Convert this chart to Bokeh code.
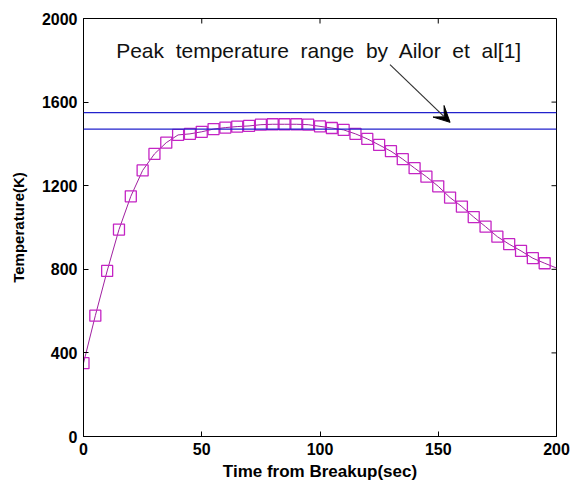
import math

from bokeh.plotting import figure
from bokeh.models import (Range1d, FixedTicker, Span, Label,
                          Arrow, VeeHead, ColumnDataSource)
from bokeh.embed import file_html
from bokeh.resources import INLINE

# Debris temperature history after breakup
time_s = [0, 5, 10, 15, 20, 25, 30, 35, 40, 45, 50, 55, 60, 65, 70, 75, 80,
          85, 90, 95, 100, 105, 110, 115, 120, 125, 130, 135, 140, 145, 150,
          155, 160, 165, 170, 175, 180, 185, 190, 195, 200]
temperature_k = [351, 578, 792, 990, 1149, 1273, 1352, 1406, 1443, 1448, 1458,
                 1471, 1478, 1483, 1486, 1492, 1494, 1494, 1494, 1492, 1484,
                 1476, 1467, 1448, 1424, 1395, 1365, 1327, 1284, 1243, 1197,
                 1143, 1100, 1050, 1004, 956, 920, 888, 853, 829, 806]

# Reported peak temperature band (Ailor et al.)
peak_range_k = [1471, 1550]

x_ticks = [0, 50, 100, 150, 200]
y_ticks = [0, 400, 800, 1200, 1600, 2000]
x_max = 200
y_max = 2000

# Words are set with a wide gap between them
annotation_words = ["Peak", "temperature", "range", "by", "Ailor", "et", "al[1]"]
annotation_text = "\u00a0 ".join(annotation_words)
annotation_pos = (13.8, 1847)
arrow_from = (129.6, 1779)
arrow_to = (155.0, 1503)

FONT = "Liberation Sans"
CURVE = "#c424c4"
BAND = "#2222cc"

p = figure(width=577, height=483, output_backend="svg", toolbar_location=None,
           x_range=Range1d(0, x_max), y_range=Range1d(0, y_max),
           min_border_left=83, min_border_right=21, min_border_top=18,
           min_border_bottom=44, background_fill_color="white",
           border_fill_color="white")
p.outline_line_color = "black"
p.outline_line_width = 1
p.grid.visible = False

for ax, ticks in ((p.xaxis[0], x_ticks), (p.yaxis[0], y_ticks)):
    ax.ticker = FixedTicker(ticks=ticks)
    ax.major_tick_in = 5
    ax.major_tick_out = 0
    ax.minor_tick_in = 0
    ax.minor_tick_out = 0
    ax.axis_line_color = "black"
    ax.major_tick_line_color = "black"
    ax.major_label_text_font = FONT
    ax.major_label_text_font_style = "bold"
    ax.major_label_text_font_size = "16px"
    ax.major_label_text_color = "black"
    ax.axis_label_text_font = FONT
    ax.axis_label_text_font_style = "bold"
    ax.axis_label_text_color = "black"

p.xaxis.axis_label = "Time from Breakup(sec)"
p.xaxis.axis_label_text_font_size = "17px"
p.xaxis.major_label_standoff = 6
p.xaxis.axis_label_standoff = 4
p.yaxis.axis_label = "Temperature(K)"
p.yaxis.axis_label_text_font_size = "15px"
p.yaxis.major_label_standoff = 6
p.yaxis.axis_label_standoff = 12

# Mirror tick marks along the top and right edges of the box
p.ray(x=x_ticks, y=[y_max] * len(x_ticks), length=5, length_units="screen",
      angle=-math.pi / 2, line_color="black", line_width=1)
p.ray(x=[x_max] * len(y_ticks), y=y_ticks, length=5, length_units="screen",
      angle=math.pi, line_color="black", line_width=1)

for level in peak_range_k:
    p.add_layout(Span(location=level, dimension="width", line_color=BAND,
                      line_width=1.2))

src = ColumnDataSource(data=dict(t=time_s, T=temperature_k))
mark_src = ColumnDataSource(data=dict(t=time_s[:-1], T=temperature_k[:-1]))
p.line("t", "T", source=src, line_color="#a020a0", line_width=1)
p.scatter("t", "T", source=mark_src, marker="square", size=11,
          fill_color=None, line_color=CURVE, line_width=1.3)

p.add_layout(Label(x=annotation_pos[0], y=annotation_pos[1],
                   text=annotation_text, text_font=FONT,
                   text_font_size="21px", text_baseline="middle",
                   text_align="left", text_color="#111111"))

p.add_layout(Arrow(end=VeeHead(size=16, fill_color="black",
                               line_color="black"),
                   x_start=arrow_from[0], y_start=arrow_from[1],
                   x_end=arrow_to[0], y_end=arrow_to[1],
                   line_color="#333333", line_width=1.2))

open("out.html", "w").write(file_html(p, INLINE))
